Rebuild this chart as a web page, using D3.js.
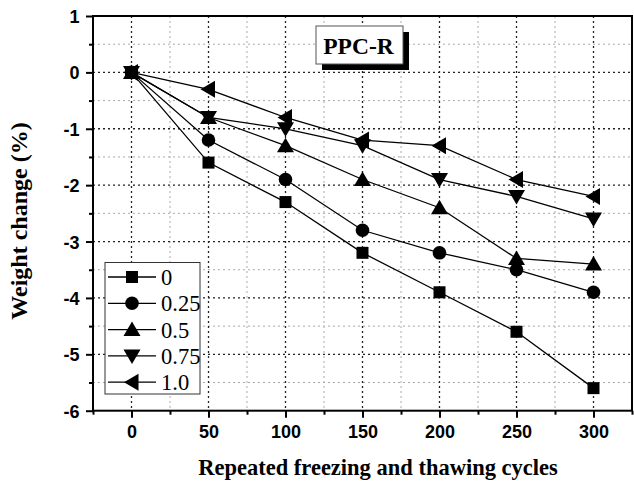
<!DOCTYPE html>
<html><head><meta charset="utf-8">
<script src="https://cdn.jsdelivr.net/npm/d3@7"></script>
<style>body{margin:0;background:#fff}svg{display:block}</style>
</head><body>
<script>
const cycles = [0, 50, 100, 150, 200, 250, 300];
const seriesNames = ["0", "0.25", "0.5", "0.75", "1.0"];
const s0    = [0, -1.6, -2.3, -3.2, -3.9, -4.6, -5.6];
const s025  = [0, -1.2, -1.9, -2.8, -3.2, -3.5, -3.9];
const s05   = [0, -0.8, -1.3, -1.9, -2.4, -3.3, -3.4];
const s075  = [0, -0.8, -1.0, -1.3, -1.9, -2.2, -2.6];
const s10   = [0, -0.3, -0.8, -1.2, -1.3, -1.9, -2.2];
const xTicks = [0, 50, 100, 150, 200, 250, 300];
const yTicks = [1, 0, -1, -2, -3, -4, -5, -6];
const chartTitle = "PPC-R";
const xTitle = "Repeated freezing and thawing cycles";
const yTitle = "Weight change (%)";

const seriesValues = [s0, s025, s05, s075, s10];
const symbols = ["square", "circle", "up", "down", "left"];

const W = 634, H = 486;
const L = 93, R = 632, T = 16, B = 410.7;
const svg = d3.select("body").append("svg").attr("width", W).attr("height", H);
const x = d3.scaleLinear().domain([-25, 325]).range([L, R]);
const y = d3.scaleLinear().domain([-6, 1]).range([B, T]);

// grid
const g = svg.append("g");
const xMinor = d3.range(-25, 326, 25).filter(v => v % 50 !== 0 && v > -25 && v < 325);
const yMinor = d3.range(-5.5, 1, 1);
g.selectAll(".gxm").data(xMinor).join("line")
  .attr("x1", d => x(d)).attr("x2", d => x(d)).attr("y1", T).attr("y2", B)
  .attr("stroke", "#aaa").attr("stroke-width", 1).attr("stroke-dasharray", "2,3");
g.selectAll(".gym").data(yMinor).join("line")
  .attr("y1", d => y(d)).attr("y2", d => y(d)).attr("x1", L).attr("x2", R)
  .attr("stroke", "#aaa").attr("stroke-width", 1).attr("stroke-dasharray", "2,3");
g.selectAll(".gx").data(xTicks).join("line")
  .attr("x1", d => x(d)).attr("x2", d => x(d)).attr("y1", T).attr("y2", B)
  .attr("stroke", "#222").attr("stroke-width", 1.3).attr("stroke-dasharray", "2,3");
g.selectAll(".gy").data(yTicks.filter(v => v > -6 && v < 1)).join("line")
  .attr("y1", d => y(d)).attr("y2", d => y(d)).attr("x1", L).attr("x2", R)
  .attr("stroke", "#222").attr("stroke-width", 1.3).attr("stroke-dasharray", "2,3");

// axes
const fmt = d => String(d);
const xAxis = d3.axisBottom(x).tickValues(xTicks).tickSize(7).tickFormat(fmt);
const xAxisMinor = d3.axisBottom(x).tickValues(d3.range(-25, 326, 25).filter(v => v % 50 !== 0)).tickSize(4).tickFormat("");
const yAxis = d3.axisLeft(y).tickValues(yTicks).tickSize(7).tickFormat(fmt);
const yAxisMinor = d3.axisLeft(y).tickValues(d3.range(-5.5, 1, 1)).tickSize(4).tickFormat("");

function styleAxis(sel) {
  sel.select(".domain").remove();
  sel.selectAll(".tick line").attr("stroke", "#000").attr("stroke-width", 2);
  sel.selectAll("text").attr("font-family", "Liberation Sans, Arial, sans-serif")
    .attr("font-weight", "bold").attr("font-size", 18).attr("fill", "#000");
}
const gx = svg.append("g").attr("transform", `translate(0,${B})`).call(xAxis).call(styleAxis);
gx.selectAll("text").attr("y", 27.5).attr("dy", 0);
svg.append("g").attr("transform", `translate(0,${B})`).call(xAxisMinor).call(styleAxis);
const gy = svg.append("g").attr("transform", `translate(${L},0)`).call(yAxis).call(styleAxis);
gy.selectAll("text").attr("x", -13.5).attr("dy", "0.36em");
svg.append("g").attr("transform", `translate(${L},0)`).call(yAxisMinor).call(styleAxis);

svg.append("rect").attr("x", L).attr("y", T).attr("width", R - L).attr("height", B - T)
  .attr("fill", "none").attr("stroke", "#000").attr("stroke-width", 2);

// markers
function drawSym(sel, type, cx, cy) {
  if (type === "square") {
    const h = 6;
    sel.append("rect").attr("x", cx - h).attr("y", cy - h).attr("width", 2 * h).attr("height", 2 * h).attr("fill", "#000");
  } else if (type === "circle") {
    sel.append("circle").attr("cx", cx).attr("cy", cy).attr("r", 6.8).attr("fill", "#000");
  } else {
    const a = 8.5, b = 8;  // half base, height split
    let pts;
    if (type === "up") pts = [[cx, cy - b], [cx + a, cy + 6.5], [cx - a, cy + 6.5]];
    if (type === "down") pts = [[cx, cy + b], [cx + a, cy - 6.5], [cx - a, cy - 6.5]];
    if (type === "left") pts = [[cx - b, cy], [cx + 6.5, cy - a], [cx + 6.5, cy + a]];
    sel.append("polygon").attr("points", pts.map(p => p.join(",")).join(" ")).attr("fill", "#000");
  }
}

const line = d3.line().x((d, i) => x(cycles[i])).y(d => y(d));
const plot = svg.append("g");
seriesValues.forEach((vals) => {
  plot.append("path").attr("d", line(vals)).attr("fill", "none").attr("stroke", "#000").attr("stroke-width", 1.3);
});
seriesValues.forEach((vals, si) => {
  vals.forEach((v, i) => drawSym(plot, symbols[si], x(cycles[i]), y(v)));
});

// title box
const bx = 316, by = 26, bw = 87, bh = 38;
svg.append("rect").attr("x", bx + 6).attr("y", by + 6).attr("width", bw).attr("height", bh).attr("fill", "#000");
svg.append("rect").attr("x", bx).attr("y", by).attr("width", bw).attr("height", bh).attr("fill", "#fff")
  .attr("stroke", "#555").attr("stroke-width", 1);
svg.append("text").attr("x", bx + bw / 2 - 1).attr("y", by + bh / 2 + 8.5).attr("text-anchor", "middle")
  .attr("font-family", "Liberation Serif, Times New Roman, serif").attr("font-weight", "bold")
  .attr("font-size", 23.5).text(chartTitle);

// legend
const lg = svg.append("g");
lg.append("rect").attr("x", 105).attr("y", 262.5).attr("width", 95).attr("height", 131.5)
  .attr("fill", "#fff").attr("stroke", "#333").attr("stroke-width", 1);
seriesNames.forEach((name, i) => {
  const cy = 277 + i * 26.3;
  lg.append("line").attr("x1", 108).attr("x2", 156).attr("y1", cy).attr("y2", cy).attr("stroke", "#000").attr("stroke-width", 1.3);
  drawSym(lg, symbols[i], 132, cy);
  lg.append("text").attr("x", 161).attr("y", cy + 8).attr("font-family", "Liberation Serif, Times New Roman, serif")
    .attr("font-size", 22.5).text(name);
});

// axis titles
svg.append("text").attr("x", 378).attr("y", 475).attr("text-anchor", "middle")
  .attr("font-family", "Liberation Serif, Times New Roman, serif").attr("font-weight", "bold")
  .attr("font-size", 22.5).text(xTitle);
svg.append("text").attr("transform", `translate(27,221) rotate(-90)`).attr("text-anchor", "middle")
  .attr("font-family", "Liberation Serif, Times New Roman, serif").attr("font-weight", "bold")
  .attr("font-size", 24).text(yTitle);
</script>
</body></html>
